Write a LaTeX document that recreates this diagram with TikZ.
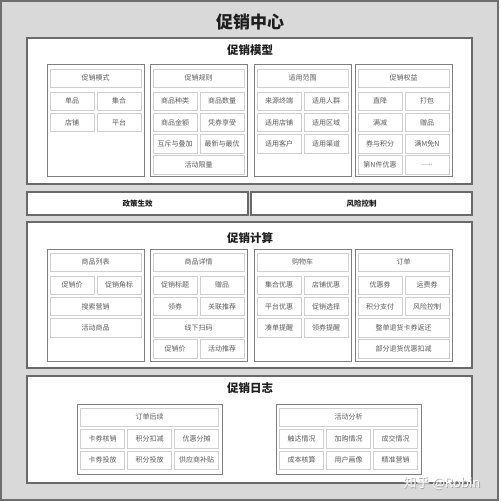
\documentclass[tikz,border=0pt]{standalone}
\usepackage{fontspec}
\setmainfont{Noto Sans CJK SC}
\definecolor{framegray}{HTML}{6E6E6E}
\definecolor{bggray}{HTML}{D9D9D9}
\definecolor{secborder}{HTML}{6A6A6A}
\definecolor{grpborder}{HTML}{7F7F7F}
\definecolor{cellborder}{HTML}{CFCFCF}
\definecolor{celltext}{HTML}{5A5A5A}
\definecolor{titletext}{HTML}{1E1E1E}
\tikzset{
  secbox/.style={draw=secborder, line width=1.5pt, fill=white, inner sep=0pt, outer sep=0pt, anchor=north west},
  grpbox/.style={draw=grpborder, line width=1pt, fill=white, inner sep=0pt, outer sep=0pt, anchor=north west},
  cellbox/.style={draw=cellborder, line width=0.8pt, fill=white, inner sep=0pt, outer sep=0pt, minimum height=18.6pt, anchor=north west, text=celltext, font=\fontsize{7}{8}\selectfont},
  policybox/.style={secbox, minimum height=23pt, font=\bfseries\fontsize{7.5}{9}\selectfont, text=titletext},
  sectitle/.style={font=\bfseries\fontsize{11.5}{13}\selectfont, text=titletext, inner sep=0pt},
}
\newcommand\spanc[3]{\node[cellbox,minimum width=91pt] (#1) at (\gx+3,#2) {#3};}
\newcommand\lefc[3]{\node[cellbox,minimum width=44pt] (#1) at (\gx+3,#2) {#3};}
\newcommand\rigc[3]{\node[cellbox,minimum width=44pt] (#1) at (\gx+50,#2) {#3};}
\newcommand\wide[3]{\node[cellbox,minimum width=138pt] (#1) at (\gx+3.5,#2) {#3};}
\newcommand\colA[3]{\node[cellbox,minimum width=44pt] (#1) at (\gx+3.5,#2) {#3};}
\newcommand\colB[3]{\node[cellbox,minimum width=44pt] (#1) at (\gx+50.5,#2) {#3};}
\newcommand\colC[3]{\node[cellbox,minimum width=44pt] (#1) at (\gx+97.5,#2) {#3};}
\begin{document}
\begin{tikzpicture}[x=1pt,y=-1pt]
\useasboundingbox (0,0) rectangle (500,502);
\fill[white] (0,0) rectangle (500,502);
% outer frame
\node[draw=framegray, line width=2pt, fill=bggray, inner sep=0pt, outer sep=0pt, anchor=north west, minimum width=497pt, minimum height=499pt] (frame) at (1,1) {};
\node[font=\bfseries\fontsize{17}{19}\selectfont, text=titletext, inner sep=0pt] (maintitle) at (250,22) {促销中心};

% ===== model section =====
\node[secbox, minimum width=445pt, minimum height=146pt] (model) at (27,38) {};
\node[sectitle] (modeltitle) at (250,50) {促销模型};
\def\gx{47}
\node[grpbox, minimum width=97pt, minimum height=112pt] (mg1) at (\gx,65) {};
\spanc{m1h}{69}{促销模式}
\lefc{m1a}{92}{单品} \rigc{m1b}{92}{集合}
\lefc{m1c}{113.2}{店铺} \rigc{m1d}{113.2}{平台}
\def\gx{150}
\node[grpbox, minimum width=97pt, minimum height=112pt] (mg2) at (\gx,65) {};
\spanc{m2h}{69}{促销规则}
\lefc{m2a}{92}{商品种类} \rigc{m2b}{92}{商品数量}
\lefc{m2c}{113.2}{商品金额} \rigc{m2d}{113.2}{凭券享受}
\lefc{m2e}{134.4}{互斥与叠加} \rigc{m2f}{134.4}{最新与最优}
\spanc{m2g}{155.6}{活动限量}
\def\gx{254}
\node[grpbox, minimum width=97pt, minimum height=112pt] (mg3) at (\gx,65) {};
\spanc{m3h}{69}{适用范围}
\lefc{m3a}{92}{来源终端} \rigc{m3b}{92}{适用人群}
\lefc{m3c}{113.2}{适用店铺} \rigc{m3d}{113.2}{适用区域}
\lefc{m3e}{134.4}{适用客户} \rigc{m3f}{134.4}{适用渠道}
\def\gx{355}
\node[grpbox, minimum width=97pt, minimum height=112pt] (mg4) at (\gx,65) {};
\spanc{m4h}{69}{促销权益}
\lefc{m4a}{92}{直降} \rigc{m4b}{92}{打包}
\lefc{m4c}{113.2}{满减} \rigc{m4d}{113.2}{赠品}
\lefc{m4e}{134.4}{券与积分} \rigc{m4f}{134.4}{满M免N}
\lefc{m4g}{155.6}{第N件优惠} \rigc{m4i}{155.6}{......}

% ===== policy row =====
\node[policybox, minimum width=221pt] (policy) at (27,192) {政策生效};
\node[policybox, minimum width=221pt] (risk) at (251,192) {风险控制};

% ===== calc section =====
\node[secbox, minimum width=445pt, minimum height=146pt] (calc) at (27,222) {};
\node[sectitle] (calctitle) at (250,238) {促销计算};
\def\gx{47}
\node[grpbox, minimum width=97pt, minimum height=112pt] (cg1) at (\gx,249) {};
\spanc{c1h}{253}{商品列表}
\lefc{c1a}{276}{促销价} \rigc{c1b}{276}{促销角标}
\spanc{c1c}{297.2}{搜索营销}
\spanc{c1d}{318.4}{活动商品}
\def\gx{150}
\node[grpbox, minimum width=97pt, minimum height=112pt] (cg2) at (\gx,249) {};
\spanc{c2h}{253}{商品详情}
\lefc{c2a}{276}{促销标题} \rigc{c2b}{276}{赠品}
\lefc{c2c}{297.2}{领券} \rigc{c2d}{297.2}{关联推荐}
\spanc{c2e}{318.4}{线下扫码}
\lefc{c2f}{339.6}{促销价} \rigc{c2g}{339.6}{活动推荐}
\def\gx{254}
\node[grpbox, minimum width=97pt, minimum height=112pt] (cg3) at (\gx,249) {};
\spanc{c3h}{253}{购物车}
\lefc{c3a}{276}{集合优惠} \rigc{c3b}{276}{店铺优惠}
\lefc{c3c}{297.2}{平台优惠} \rigc{c3d}{297.2}{促销选择}
\lefc{c3e}{318.4}{凑单提醒} \rigc{c3f}{318.4}{领券提醒}
\def\gx{355}
\node[grpbox, minimum width=97pt, minimum height=112pt] (cg4) at (\gx,249) {};
\spanc{c4h}{253}{订单}
\lefc{c4a}{276}{优惠券} \rigc{c4b}{276}{运费券}
\lefc{c4c}{297.2}{积分支付} \rigc{c4d}{297.2}{风险控制}
\spanc{c4e}{318.4}{整单退货卡券返还}
\spanc{c4f}{339.6}{部分退货优惠扣减}

% ===== log section =====
\node[secbox, minimum width=445pt, minimum height=107pt] (log) at (27,376) {};
\node[sectitle] (logtitle) at (250,388) {促销日志};
\def\gx{77}
\node[grpbox, minimum width=145pt, minimum height=70pt] (lg1) at (\gx,404) {};
\wide{l1h}{408}{订单后续}
\colA{l1a}{429.8}{卡券核销} \colB{l1b}{429.8}{积分扣减} \colC{l1c}{429.8}{优惠分摊}
\colA{l1d}{451}{卡券投放} \colB{l1e}{451}{积分投放} \colC{l1f}{451}{供应商补贴}
\def\gx{276}
\node[grpbox, minimum width=145pt, minimum height=70pt] (lg2) at (\gx,404) {};
\wide{l2h}{408}{活动分析}
\colA{l2a}{429.8}{触达情况} \colB{l2b}{429.8}{加购情况} \colC{l2c}{429.8}{成交情况}
\colA{l2d}{451}{成本核算} \colB{l2e}{451}{用户画像} \colC{l2f}{451}{精准营销}

% watermark
\node[font=\fontsize{13}{14}\selectfont, text=white, inner sep=0pt] (wmshadow) at (442.8,483.8) {\textcolor{gray!70}{知乎 @Robin}};
\node[font=\fontsize{13}{14}\selectfont, text=white, inner sep=0pt] (wm) at (442,483) {知乎 @Robin};
\end{tikzpicture}
\end{document}
